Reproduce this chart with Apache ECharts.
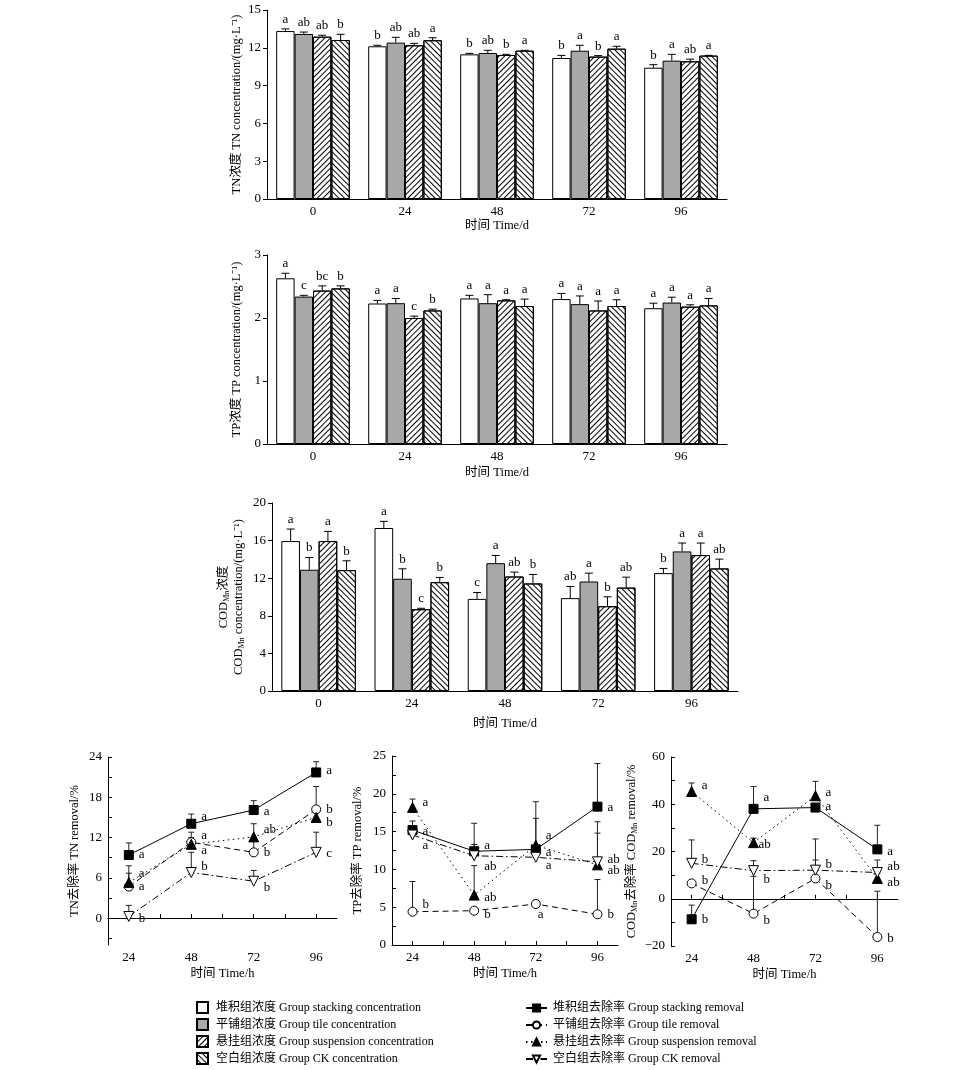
<!DOCTYPE html>
<html><head><meta charset="utf-8">
<script src="https://cdn.jsdelivr.net/npm/echarts@6/dist/echarts.min.js"></script>
<style>html,body{margin:0;background:#fff}#c{width:966px;height:1070px}</style>
</head><body><div id="c"></div><script>
// ---------------- DATA ----------------
const concNames = ['堆积组浓度 Group stacking concentration','平铺组浓度 Group tile concentration','悬挂组浓度 Group suspension concentration','空白组浓度 Group CK concentration'];
const removalNames = ['堆积组去除率 Group stacking removal','平铺组去除率 Group tile removal','悬挂组去除率 Group suspension removal','空白组去除率 Group CK removal'];
const timeDays = ['0','24','48','72','96'];
const timeHours = [24,48,72,96];

// order: stacking, tile, suspension, CK
const tnMean = [[13.33,12.12,11.48,11.19,10.42],[13.10,12.41,11.59,11.77,10.98],[12.88,12.20,11.43,11.30,10.93],[12.62,12.60,11.77,11.93,11.38]];
const tnErr  = [[0.17,0.08,0.08,0.21,0.24],[0.15,0.42,0.21,0.43,0.50],[0.12,0.15,0.05,0.08,0.17],[0.45,0.20,0.03,0.19,0.02]];
const tnSig  = [['a','b','b','b','b'],['ab','ab','ab','a','a'],['ab','ab','b','b','ab'],['b','a','a','a','a']];

const tpMean = [[2.63,2.23,2.31,2.30,2.155],[2.34,2.235,2.235,2.22,2.245],[2.435,2.00,2.28,2.12,2.18],[2.47,2.12,2.19,2.19,2.20]];
const tpErr  = [[0.08,0.05,0.05,0.09,0.08],[0.02,0.075,0.135,0.13,0.085],[0.075,0.03,0.01,0.15,0.03],[0.04,0.02,0.11,0.10,0.11]];
const tpSig  = [['a','a','a','a','a'],['c','a','a','a','a'],['bc','c','a','a','a'],['b','b','a','a','a']];

const codMean = [[15.95,17.34,9.80,9.88,12.54],[12.90,11.94,13.60,11.65,14.85],[15.95,8.70,12.18,9.02,14.46],[12.86,11.58,11.44,11.00,13.04]];
const codErr  = [[1.28,0.71,0.68,1.24,0.50],[1.30,1.06,0.82,0.89,0.89],[1.03,0.10,0.47,1.00,1.28],[0.99,0.50,0.96,1.11,0.99]];
const codSig  = [['a','a','c','ab','b'],['b','b','a','a','a'],['a','c','ab','b','a'],['b','b','b','ab','ab']];

const tnRem    = [[9.4,14.06,16.1,21.7],[4.7,11.3,9.8,16.2],[5.3,11.0,12.1,15.0],[0.25,6.8,5.5,9.8]];
const tnRemErr = [[1.8,1.44,1.4,1.6],[2.0,1.5,2.0,3.4],[2.5,1.0,1.96,0.8],[1.65,3.0,1.6,3.0]];
const tnRemSig = [['a','a','a','a'],['a','a','b','b'],['a','a','ab','b'],['b','b','b','c']];

const tpRem    = [[15.2,12.4,12.65,18.3],[4.4,4.54,5.42,4.06],[18.2,6.6,13.2,10.6],[14.55,11.8,11.6,11.0]];
const tpRemErr = [[1.2,3.7,6.3,5.7],[4.0,0.3,0.5,4.6],[1.1,3.9,3.55,4.2],[0.8,1.5,0.6,5.3]];
const tpRemSig = [['a','a','a','a'],['b','b','a','b'],['a','ab','a','ab'],['a','ab','a','ab']];

const codRem    = [[-8.7,38.05,38.6,20.9],[6.5,-6.3,8.6,-16.2],[45.4,23.75,43.6,8.6],[15.0,11.9,12.1,11.1]];
const codRemErr = [[6.0,9.45,1.0,10.2],[1.0,15.8,7.8,19.4],[3.6,1.85,6.1,2.0],[9.9,4.2,13.2,5.3]];
const codRemSig = [['b','a','a','a'],['b','b','b','b'],['a','ab','a','ab'],['b','b','b','ab']];

const tnRemTicks = [-3,0,3,6,9,12,15,18,21,24];
const tnRemLabels = [0,6,12,18,24];
const tpRemTicks = [0,2.5,5,7.5,10,12.5,15,17.5,20,22.5,25];
const tpRemLabels = [0,5,10,15,20,25];
const codRemTicks = [-20,-10,0,10,20,30,40,50,60];
const codRemLabels = [-20,0,20,40,60];
const hourTicks = [24,36,48,60,72,84,96];
const hourLabels = [24,48,72,96];

// ---------------- LAYOUT / STYLE ----------------
const FONT = '"Liberation Serif","Noto Sans CJK SC",serif';
const hatch = rot => ({symbol:'rect', symbolSize:1, dashArrayX:[1,0], dashArrayY:[1,2.6], rotation:rot, color:'#000'});
const barStyles = [
  {color:'#fff', borderColor:'#000', borderWidth:1},
  {color:'#a8a8a8', borderColor:'#000', borderWidth:1},
  {color:'#fff', borderColor:'#000', borderWidth:1, decal:hatch(-Math.PI/4)},
  {color:'#fff', borderColor:'#000', borderWidth:1, decal:hatch(Math.PI/4)}
];
const lineSym = [
  {symbol:'rect', size:9, fill:'#000'},
  {symbol:'circle', size:9, fill:'#fff'},
  {symbol:'triangle', size:10, fill:'#000'},
  {symbol:'path://M0,0 L10,0 L5,9 Z', size:10, fill:'#fff'}
];
const lineDash = ['solid',[6,4],[1.5,3.5],[7,3,1.5,3]];
const tnNudge = [[[10,0],[10,-7],[10,2],[10,-2]],[[10,0],[10,-7],[10,0],[10,0]],[[10,-9],[10,6],[10,-7],[10,5]],[[10,2],[10,-6],[10,6],[10,1]]];
const tpNudge = [[[10,1],[10,-6],[10,3],[10,1]],[[10,-7],[10,4],[2,11],[10,0]],[[10,-5],[10,2],[10,-10],[10,6]],[[10,11],[10,11],[10,8],[10,-2]]];
const codNudge = [[[10,0],[10,-11],[10,-1],[10,2]],[[10,-3],[10,7],[10,7],[10,2]],[[10,-6],[5,2],[10,-3],[10,4]],[[10,-4],[10,9],[10,-6],[10,-6]]];

const grids = [
  {left:267, top:10,  width:460, height:189},
  {left:267, top:255, width:460, height:189},
  {left:272, top:503, width:466, height:188},
  {left:108, top:757, width:229, height:188},
  {left:392, top:756, width:226, height:189},
  {left:671, top:757, width:227, height:189}
];
const axisLineS = {show:true, lineStyle:{color:'#000', width:1}};
const lblS = {color:'#000', fontSize:13, fontFamily:FONT};
const nameS = {color:'#000', fontSize:12.5, fontFamily:FONT};
const minus = v => v < 0 ? '\u2212' + Math.abs(v) : String(v);

const xAxes = [], yAxes = [], series = [];
[0,1,2].forEach((gi,idx)=>{
  xAxes.push({gridIndex:gi, type:'category', data:timeDays, axisLine:axisLineS, axisTick:{show:false},
    axisLabel:{...lblS, margin:6}, name:'时间 Time/d', nameLocation:'middle', nameGap:[20,22,26][idx], nameTextStyle:nameS});
});
yAxes.push({gridIndex:0, type:'value', min:0, max:15, interval:3, axisLine:axisLineS, axisTick:{show:true,length:4,lineStyle:{color:'#000'}}, splitLine:{show:false},
  axisLabel:{...lblS, margin:6}, name:'TN浓度 TN concentration/(mg·L⁻¹)', nameLocation:'middle', nameGap:24, nameTextStyle:nameS});
yAxes.push({gridIndex:1, type:'value', min:0, max:3, interval:1, axisLine:axisLineS, axisTick:{show:true,length:4,lineStyle:{color:'#000'}}, splitLine:{show:false},
  axisLabel:{...lblS, margin:6}, name:'TP浓度 TP concentration/(mg·L⁻¹)', nameLocation:'middle', nameGap:24, nameTextStyle:nameS});
yAxes.push({gridIndex:2, type:'value', min:0, max:20, interval:4, axisLine:axisLineS, axisTick:{show:true,length:4,lineStyle:{color:'#000'}}, splitLine:{show:false},
  axisLabel:{...lblS, margin:6},
  name:'{a|COD}{s|Mn}{a|浓度}\n{a|COD}{s|Mn}{a| concentration/(mg·L⁻¹)}', nameLocation:'middle', nameGap:26,
  nameTextStyle:{...nameS, lineHeight:15, rich:{a:{fontSize:12.5, fontFamily:FONT, color:'#000', lineHeight:15}, s:{fontSize:8, fontFamily:FONT, color:'#000', verticalAlign:'bottom', lineHeight:15}}}});

[3,4,5].forEach(gi=>{
  xAxes.push({gridIndex:gi, type:'value', min:16, max:104, axisLine:axisLineS, splitLine:{show:false},
    axisTick:{show:true, inside:true, length:4, customValues:hourTicks, lineStyle:{color:'#000'}},
    axisLabel:{...lblS, margin:6, customValues:hourLabels}, name:'时间 Time/h', nameLocation:'middle', nameGap:22, nameTextStyle:nameS});
});
const remY = [
  {min:-4, max:24, ticks:tnRemTicks, labels:tnRemLabels, name:'TN去除率 TN removal/%', gap:27},
  {min:0, max:25, ticks:tpRemTicks, labels:tpRemLabels, name:'TP去除率 TP removal/%', gap:28},
  {min:-20, max:60, ticks:codRemTicks, labels:codRemLabels, name:'{a|COD}{s|Mn}{a|去除率 COD}{s|Mn}{a| removal/%}', gap:32}
];
remY.forEach((r,i)=>{
  yAxes.push({gridIndex:3+i, type:'value', min:r.min, max:r.max, axisLine:axisLineS, splitLine:{show:false},
    axisTick:{show:true, inside:true, length:4, customValues:r.ticks, lineStyle:{color:'#000'}},
    axisLabel:{...lblS, margin:6, customValues:r.labels, formatter:minus},
    name:r.name, nameLocation:'middle', nameGap:r.gap,
    nameTextStyle:{...nameS, rich:{a:{fontSize:12.5, fontFamily:FONT, color:'#000', lineHeight:15}, s:{fontSize:8, fontFamily:FONT, color:'#000', verticalAlign:'bottom', lineHeight:15}}}});
});

function barPanel(gi, means, errs, sigs){
  means.forEach((m,k)=>{
    series.push({type:'bar', name:concNames[k], xAxisIndex:gi, yAxisIndex:gi, data:m, barGap:'0%', barCategoryGap:'20%',
      itemStyle:barStyles[k], silent:true, animation:false});
    series.push({type:'custom', xAxisIndex:gi, yAxisIndex:gi, z:10, silent:true, clip:false, animation:false,
      data:m.map((v,i)=>[i, v, errs[k][i]]),
      renderItem:(p, api)=>{
        const i = api.value(0), v = api.value(1), e = api.value(2);
        const band = api.size([1,0])[0];
        const p0 = api.coord([i, v]), p1 = api.coord([i, v+e]);
        const x = p0[0] + (-0.4 + 0.2*(k+0.5))*band;
        return {type:'group', children:[
          {type:'line', shape:{x1:x, y1:p0[1], x2:x, y2:p1[1]}, style:{stroke:'#000', lineWidth:1}},
          {type:'line', shape:{x1:x-4, y1:p1[1], x2:x+4, y2:p1[1]}, style:{stroke:'#000', lineWidth:1}},
          {type:'text', style:{text:sigs[k][p.dataIndex], x:x, y:p1[1]-3, align:'center', verticalAlign:'bottom', fontSize:13, fontFamily:FONT, fill:'#000'}}
        ]};
      }});
  });
}
function linePanel(gi, vals, errs, sigs, nudges){
  vals.forEach((v,k)=>{
    const s = lineSym[k];
    series.push({type:'line', name:removalNames[k], xAxisIndex:gi, yAxisIndex:gi, data:timeHours.map((h,i)=>[h, v[i]]),
      symbol:s.symbol, symbolSize:s.size, showAllSymbol:true,
      itemStyle:{color:s.fill, borderColor:'#000', borderWidth:1},
      lineStyle:{color:'#000', width:1, type:lineDash[k]}, z:5, silent:true, animation:false});
    series.push({type:'custom', xAxisIndex:gi, yAxisIndex:gi, z:3, silent:true, clip:false, animation:false,
      data:timeHours.map((h,i)=>[h, v[i], errs[k][i]]),
      renderItem:(p, api)=>{
        const h = api.value(0), y = api.value(1), e = api.value(2);
        const p0 = api.coord([h, y]), p1 = api.coord([h, y+e]);
        const n = nudges[k][p.dataIndex];
        return {type:'group', children:[
          {type:'line', shape:{x1:p0[0], y1:p0[1], x2:p0[0], y2:p1[1]}, style:{stroke:'#222', lineWidth:1}},
          {type:'line', shape:{x1:p0[0]-3, y1:p1[1], x2:p0[0]+3, y2:p1[1]}, style:{stroke:'#222', lineWidth:1}},
          {type:'text', z2:20, style:{text:sigs[k][p.dataIndex], x:p0[0]+n[0], y:p0[1]+n[1], align:'left', verticalAlign:'middle', fontSize:13, fontFamily:FONT, fill:'#000'}}
        ]};
      }});
  });
}
barPanel(0, tnMean, tnErr, tnSig);
barPanel(1, tpMean, tpErr, tpSig);
barPanel(2, codMean, codErr, codSig);
linePanel(3, tnRem, tnRemErr, tnRemSig, tnNudge);
linePanel(4, tpRem, tpRemErr, tpRemSig, tpNudge);
linePanel(5, codRem, codRemErr, codRemSig, codNudge);

const chart = echarts.init(document.getElementById('c'), null, {renderer:'canvas', width:966, height:1070});
chart.setOption({
  animation:false,
  backgroundColor:'#fff',
  textStyle:{fontFamily:FONT},
  grid:grids, xAxis:xAxes, yAxis:yAxes, series:series,
  legend:[
    {data:concNames, orient:'vertical', left:196, top:1001, height:69, padding:0, itemWidth:11, itemHeight:11, itemGap:4, icon:'rect', selectedMode:false,
      textStyle:{color:'#000', fontSize:12, fontFamily:FONT, padding:[0,0,0,3]}},
    {data:removalNames, orient:'vertical', left:525, top:1002, height:68, padding:0, itemWidth:21, itemHeight:9, itemGap:5, selectedMode:false,
      textStyle:{color:'#000', fontSize:12, fontFamily:FONT, padding:[0,0,0,1]}}
  ]
});
</script></body></html>
